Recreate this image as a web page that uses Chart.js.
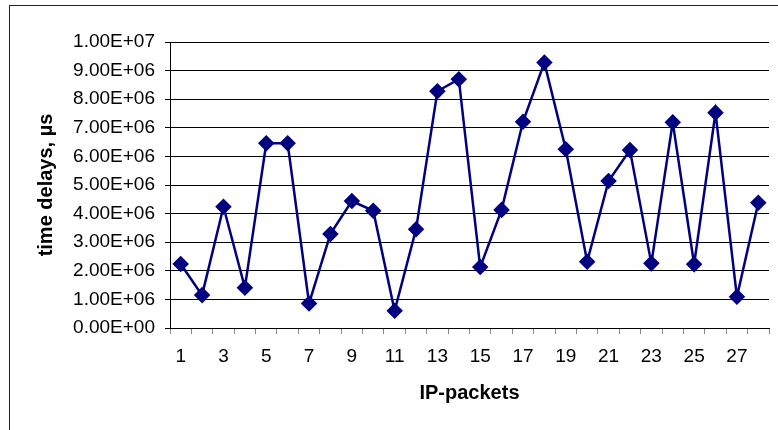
<!DOCTYPE html>
<html>
<head>
<meta charset="utf-8">
<script src="https://cdn.jsdelivr.net/npm/chart.js@4"></script>
<style>
  body { margin: 0; background: #fff; }
  #wrap { width: 778px; height: 430px; }
</style>
</head>
<body>
<div id="wrap"><canvas id="myChart" width="778" height="430"></canvas></div>
<script>
// data
var packets = ["1", "2", "3", "4", "5", "6", "7", "8", "9", "10", "11", "12", "13", "14",
  "15", "16", "17", "18", "19", "20", "21", "22", "23", "24", "25", "26", "27", "28"];
var delays = [2.24e6, 1.15e6, 4.24e6, 1.41e6, 6.46e6, 6.46e6, 0.86e6, 3.29e6, 4.44e6, 4.10e6,
  0.60e6, 3.45e6, 8.28e6, 8.70e6, 2.13e6, 4.13e6, 7.21e6, 9.28e6, 6.25e6, 2.32e6,
  5.14e6, 6.22e6, 2.26e6, 7.19e6, 2.23e6, 7.53e6, 1.09e6, 4.38e6];
var yMin = 0, yMax = 1e7, yStep = 1e6;

// 1.00E+07 style labels
function sci(v) {
  if (v === 0) return "0.00E+00";
  var e = Math.floor(Math.log10(Math.abs(v)) + 1e-9);
  var m = v / Math.pow(10, e);
  var es = (e < 0 ? "-" : "+") + (Math.abs(e) < 10 ? "0" : "") + Math.abs(e);
  return m.toFixed(2) + "E" + es;
}

// outer frame of the chart
var framePlugin = {
  id: "frame",
  beforeDraw: function(chart) {
    var c = chart.ctx;
    c.save();
    c.fillStyle = "#fff";
    c.fillRect(0, 0, chart.width, chart.height);
    c.strokeStyle = "#222";
    c.lineWidth = 1;
    c.strokeRect(9.5, 5.5, 900, 600);
    c.restore();
  }
};

var ctx = document.getElementById("myChart").getContext("2d");
var myChart = new Chart(ctx, {
  type: "line",
  data: {
    labels: packets,
    datasets: [{
      data: delays,
      borderColor: "#000080",
      backgroundColor: "#000080",
      borderWidth: 2.5,
      pointStyle: "rectRot",
      pointRadius: 6.5,
      pointHoverRadius: 6.5,
      tension: 0
    }]
  },
  options: {
    responsive: false,
    animation: false,
    layout: { padding: { left: 0, right: 9, top: 42, bottom: 0 } },
    plugins: { legend: { display: false }, tooltip: { enabled: false } },
    scales: {
      x: {
        offset: true,
        grid: { offset: true, drawOnChartArea: false, tickLength: 6, color: "#888" },
        border: { color: "#000", width: 1 },
        ticks: {
          autoSkip: false,
          maxRotation: 0,
          padding: 11,
          color: "#000",
          font: { family: "Arial, 'Liberation Sans'", size: 19 },
          callback: function(v, i) { return i % 2 === 0 ? packets[i] : ""; }
        },
        title: {
          display: true,
          text: "IP-packets",
          color: "#000",
          font: { family: "Arial, 'Liberation Sans'", size: 20, weight: "bold" },
          padding: { top: 0, bottom: 25 }
        },
        afterFit: function(s) { s.height = 102; }
      },
      y: {
        min: yMin,
        max: yMax,
        grid: { color: "#000", lineWidth: 1, tickLength: 5 },
        border: { color: "#000", width: 1 },
        ticks: {
          stepSize: yStep,
          padding: 10,
          color: "#000",
          font: { family: "Arial, 'Liberation Sans'", size: 19 },
          callback: function(v) { return sci(v); }
        },
        title: {
          display: true,
          text: "time delays, µs",
          color: "#000",
          font: { family: "Arial, 'Liberation Sans'", size: 20, weight: "bold" },
          padding: { top: 34, bottom: 0 }
        },
        afterFit: function(s) { s.width = 170; }
      }
    }
  },
  plugins: [framePlugin]
});
</script>
</body>
</html>
